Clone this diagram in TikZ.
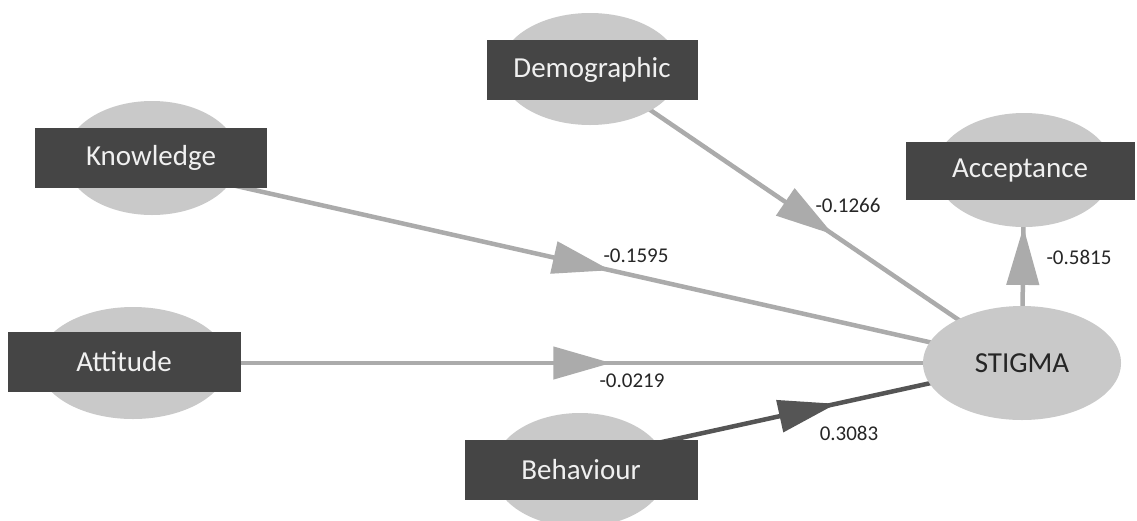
\documentclass[tikz,border=0pt]{standalone}
\usepackage{fontspec}
\setmainfont{Carlito}
\usetikzlibrary{shapes.geometric,arrows.meta,decorations.markings,backgrounds}
\definecolor{ellgray}{HTML}{C9C9C9}
\definecolor{boxgray}{HTML}{454545}
\definecolor{linegray}{HTML}{ABABAB}
\definecolor{darkline}{HTML}{555555}
\tikzset{
  blob/.style={ellipse, fill=ellgray, inner sep=0pt},
  tag/.style={rectangle, fill=boxgray, text=white!94!black, inner sep=0pt,
    minimum height=60pt, font=\fontsize{29}{33}\selectfont},
  coef/.style={font=\fontsize{21}{25}\selectfont, text=black!85},
  effect/.style={draw=#1, line width=4.5pt},
  tipat/.style={postaction={decorate}, decoration={markings,
    mark=at position #1 with {\arrow{Triangle[length=58pt,width=32pt]}}}}
}
\begin{document}
\begin{tikzpicture}[x=1pt, y=-1pt]
  \useasboundingbox (0,0) rectangle (1137,520);
  % 椭圆
  \node[blob, minimum width=174pt, minimum height=114pt] (knowE) at (152,158) {};
  \node[blob, minimum width=180pt, minimum height=112pt] (demoE) at (590,69) {};
  \node[blob, minimum width=178pt, minimum height=114pt] (accE) at (1024,170) {};
  \node[blob, minimum width=190pt, minimum height=112pt] (attE) at (133,363) {};
  \node[blob, minimum width=174pt, minimum height=114pt] (behE) at (580,470) {};
  \node[blob, minimum width=198pt, minimum height=114pt,
        font=\fontsize{29}{33}\selectfont, text=black!85] (stigma) at (1022,363) {STIGMA};
  % 矩形标签
  \node[tag, minimum width=232pt] (know) at (151,158) {Knowledge};
  \node[tag, minimum width=211pt] (demo) at (592,70) {Demographic};
  \node[tag, minimum width=229pt, minimum height=58pt] (acc) at (1020,171) {Acceptance};
  \node[tag, minimum width=233pt] (att) at (124,362) {Attitude};
  \node[tag, minimum width=233pt] (beh) at (581,470) {Behaviour};
  % 路径系数连线
  \begin{scope}[on background layer]
    \fill[white] (0,0) rectangle (1137,520);
    \draw[effect=linegray, tipat=0.527] ([yshift=-9pt]knowE.center) -- (stigma.center);
    \draw[effect=linegray, tipat=0.563] (demoE.center) -- (stigma.center);
    \draw[effect=linegray, tipat=0.538] (attE.center) -- (stigma.center);
    \draw[effect=darkline, tipat=0.58] ([yshift=10pt]behE.center) -- (stigma.center);
    \draw[effect=linegray, tipat=0.705] (stigma.center) -- (accE.center);
  \end{scope}
  % 系数
  \node[coef] (cKnow) at (636,256) {-0.1595};
  \node[coef] (cDemo) at (848,205) {-0.1266};
  \node[coef] (cAtt) at (632,381) {-0.0219};
  \node[coef] (cBeh) at (849,433) {0.3083};
  \node[coef] (cAcc) at (1079,257) {-0.5815};
\end{tikzpicture}
\end{document}
